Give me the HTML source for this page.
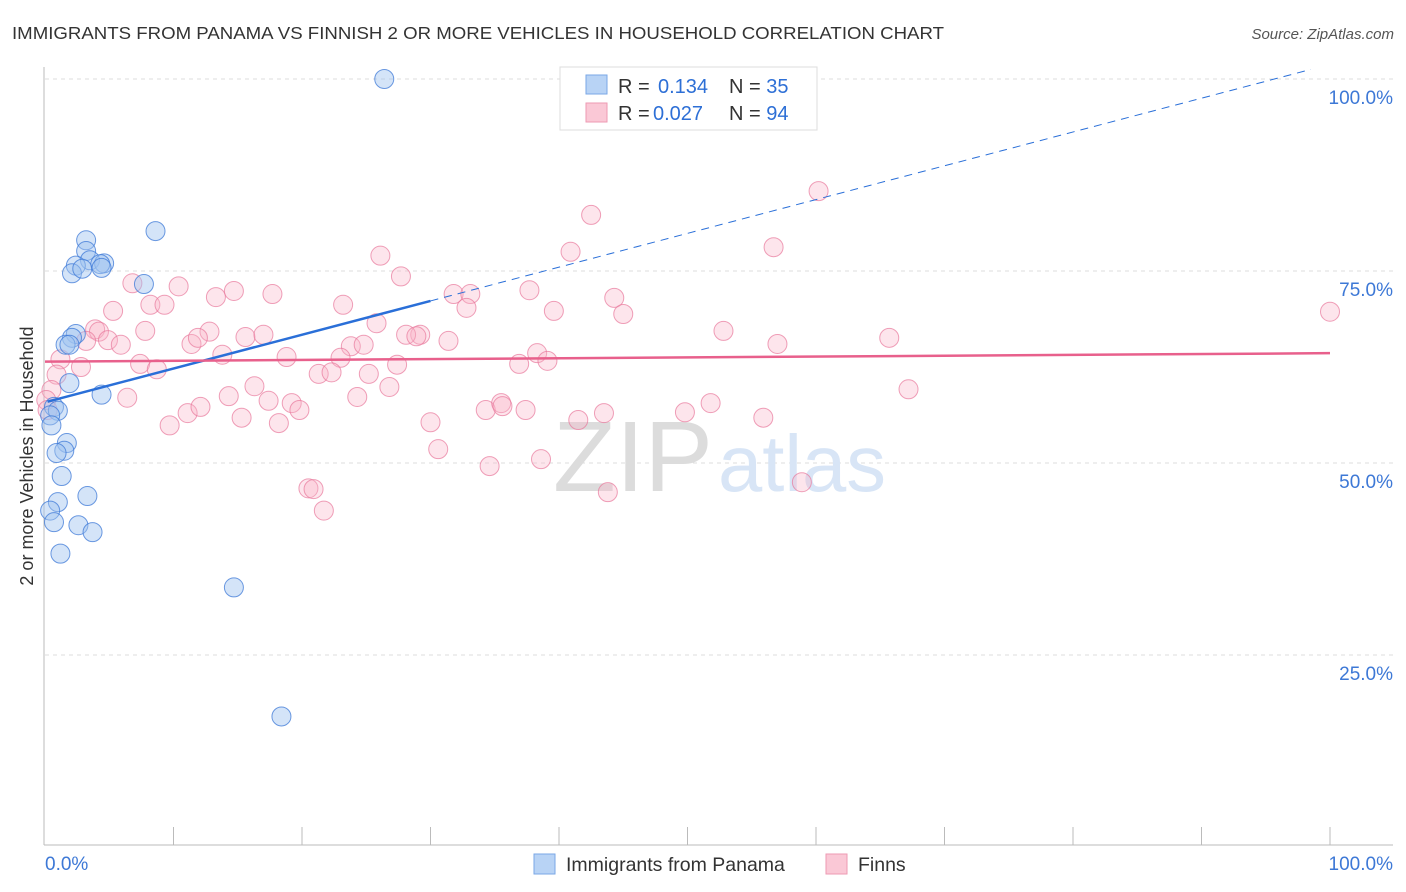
<!DOCTYPE html>
<html><head><meta charset="utf-8">
<style>
body{margin:0;background:#fff;font-family:"Liberation Sans",sans-serif;}
#wrap{position:relative;width:1406px;height:892px;overflow:hidden;}
svg text{font-family:"Liberation Sans",sans-serif;}
</style></head>
<body>
<div id="wrap">
<svg id="chart" width="1406" height="892">
  <text x="12" y="39" font-size="17.5" fill="#333" textLength="932" lengthAdjust="spacingAndGlyphs">IMMIGRANTS FROM PANAMA VS FINNISH 2 OR MORE VEHICLES IN HOUSEHOLD CORRELATION CHART</text>
  <text x="1394" y="39" font-size="15" fill="#555" font-style="italic" text-anchor="end">Source: ZipAtlas.com</text>
  <text x="0" y="0" transform="translate(33,456) rotate(-90)" font-size="18" fill="#333" text-anchor="middle">2 or more Vehicles in Household</text>
  <g id="grid"></g>
  <text x="553" y="491" font-size="100" fill="#dcdcdc" font-family="Liberation Serif" textLength="160" lengthAdjust="spacingAndGlyphs">ZIP</text>
  <text x="718" y="491" font-size="80" fill="#d8e5f6" textLength="168" lengthAdjust="spacingAndGlyphs">atlas</text>
  <g id="axes"></g>
  <g id="pink"></g>
  <g id="blue"></g>
  <g id="trend"></g>
  <g>
    <rect x="560" y="67" width="257" height="63" fill="#fff" stroke="#ddd"/>
    <rect x="586" y="75" width="21" height="19" fill="#b8d3f5" stroke="#7aa7e6"/>
    <rect x="586" y="103" width="21" height="19" fill="#fac8d6" stroke="#ee9ab3"/>
    <text x="618" y="93" font-size="20" fill="#333">R = <tspan fill="#2d6fd6" x="658">0.134</tspan><tspan x="729" fill="#333">N = </tspan><tspan fill="#2d6fd6">35</tspan></text>
    <text x="618" y="120" font-size="20" fill="#333">R = <tspan fill="#2d6fd6" x="653">0.027</tspan><tspan x="729" fill="#333">N = </tspan><tspan fill="#2d6fd6">94</tspan></text>
  </g>
  <g>
    <rect x="534" y="854" width="21" height="20" fill="#b8d3f5" stroke="#7aa7e6"/>
    <text x="566" y="871" font-size="19.5" fill="#333">Immigrants from Panama</text>
    <rect x="826" y="854" width="21" height="20" fill="#fac8d6" stroke="#ee9ab3"/>
    <text x="858" y="871" font-size="19.5" fill="#333">Finns</text>
  </g>
</svg>
</div>
<script>
const blueX=[26.4,8.6,3.2,3.2,3.5,2.4,4.6,4.3,2.1,2.9,4.4,7.7,2.4,2.1,1.6,1.9,1.9,4.4,0.7,1.0,0.4,0.5,1.7,1.5,0.9,1.3,3.3,1.0,0.4,0.7,2.6,3.7,1.2,14.7,18.4];
const blueY=[100.0,80.2,79.0,77.6,76.4,75.7,76.0,75.9,74.7,75.3,75.4,73.3,66.8,66.3,65.4,65.4,60.4,58.9,57.3,56.8,56.2,54.9,52.6,51.6,51.3,48.3,45.7,44.9,43.8,42.3,41.9,41.0,38.2,33.8,17.0];
const pinkX=[60.2,42.5,56.7,40.9,26.1,27.7,10.4,6.8,37.7,14.7,17.7,13.3,31.8,33.1,44.3,8.2,9.3,23.2,32.8,5.3,39.6,45.0,100,25.8,3.9,4.2,12.8,7.8,52.8,15.6,17.0,29.2,28.1,28.9,31.4,65.7,3.2,4.9,11.4,11.9,5.9,57.0,23.8,24.8,13.8,38.3,1.2,18.8,23.0,2.8,7.4,8.7,39.1,36.9,27.4,25.2,21.3,22.3,26.8,16.3,67.2,0.9,0.5,6.4,14.3,17.4,19.2,24.3,11.1,12.1,15.3,19.8,34.3,35.5,35.6,37.4,41.5,43.5,49.8,51.8,55.9,30.0,9.7,18.2,30.6,34.6,38.6,43.8,58.9,20.5,20.9,21.7,0.1,0.2];
const pinkY=[85.4,82.3,78.1,77.5,77.0,74.3,73.0,73.4,72.5,72.4,72.0,71.6,72.0,72.0,71.5,70.6,70.6,70.6,70.2,69.8,69.8,69.4,69.7,68.2,67.4,67.1,67.1,67.2,67.2,66.4,66.7,66.7,66.7,66.5,65.9,66.3,65.9,66.0,65.5,66.3,65.4,65.5,65.2,65.4,64.1,64.3,63.5,63.8,63.7,62.5,62.9,62.2,63.3,62.9,62.8,61.6,61.6,61.8,59.9,60.0,59.6,61.5,59.5,58.5,58.7,58.1,57.8,58.6,56.5,57.3,55.9,56.9,56.9,57.8,57.4,56.9,55.6,56.5,56.6,57.8,55.9,55.3,54.9,55.2,51.8,49.6,50.5,46.2,47.5,46.7,46.6,43.8,58.2,56.9];
const yTicks=[100,75,50,25];
const yTickLabels=["100.0%","75.0%","50.0%","25.0%"];
const xTicks=[0,10,20,30,40,50,60,70,80,90,100];
const blueTrend=[57.9,0.44];
const pinkTrend=[63.2,0.011];

const NS="http://www.w3.org/2000/svg";
const X0=45,X1=1330,Y0=847,Y100=79;
const sx=v=>X0+(X1-X0)*v/100;
const sy=v=>Y0-(Y0-Y100)*v/100;
function mk(tag,attrs,parent){const e=document.createElementNS(NS,tag);for(const k in attrs)e.setAttribute(k,attrs[k]);parent.appendChild(e);return e;}

const grid=document.getElementById('grid');
yTicks.forEach((t,i)=>{
  const l=mk('line',{x1:45,x2:1393,y1:sy(t),y2:sy(t),stroke:'#ddd','stroke-dasharray':'4,4'},grid);
  
  
  const tx=mk('text',{x:1393,y:sy(t)+25,'font-size':19,fill:'#3d78d6','text-anchor':'end'},grid);
  tx.textContent=yTickLabels[i];
  
  
});
const axes=document.getElementById('axes');
const ya=mk('line',{x1:44,x2:44,y1:67,y2:845,stroke:'#bbb'},axes);


const xa=mk('line',{x1:44,x2:1393,y1:845,y2:845,stroke:'#bbb'},axes);


xTicks.forEach(t=>{
  if(t===0)return;
  const l=mk('line',{x1:sx(t),x2:sx(t),y1:827,y2:845,stroke:'#bbb'},axes);
  
  
});
const xl0=mk('text',{x:45,y:870,'font-size':19,fill:'#3d78d6'},axes);xl0.textContent='0.0%';


const xl1=mk('text',{x:1393,y:870,'font-size':19,fill:'#3d78d6','text-anchor':'end'},axes);xl1.textContent='100.0%';



const pg=document.getElementById('pink');
pinkX.forEach((x,i)=>{
  const c=mk('circle',{cx:sx(x),cy:sy(pinkY[i]),r:9.5,fill:'rgba(248,180,200,0.35)',stroke:'rgba(232,120,155,0.7)','stroke-width':1},pg);
  
  
});
const bg=document.getElementById('blue');
blueX.forEach((x,i)=>{
  const c=mk('circle',{cx:sx(x),cy:sy(blueY[i]),r:9.5,fill:'rgba(160,195,240,0.45)',stroke:'rgba(60,120,215,0.75)','stroke-width':1},bg);
  
  
});
const tg=document.getElementById('trend');
const bt=mk('line',{x1:sx(0.2),y1:sy(blueTrend[0]+blueTrend[1]*0.2),x2:sx(30),y2:sy(blueTrend[0]+blueTrend[1]*30),stroke:'#2a6fd8','stroke-width':2.5},tg);


const bd=mk('line',{x1:sx(30),y1:sy(blueTrend[0]+blueTrend[1]*30),x2:sx(98.5),y2:sy(blueTrend[0]+blueTrend[1]*98.5),stroke:'#2a6fd8','stroke-width':1,'stroke-dasharray':'8,6'},tg);


const pt=mk('line',{x1:sx(0),y1:sy(pinkTrend[0]),x2:sx(100),y2:sy(pinkTrend[0]+pinkTrend[1]*100),stroke:'#e8608c','stroke-width':2.5},tg);


</script>
</body></html>
